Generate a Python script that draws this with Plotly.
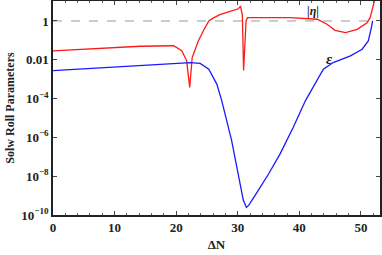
import plotly.graph_objects as go

# Delta N values and parameter values
eta_N = [0, 5, 10, 14.2, 19.6, 20.9, 21.7, 22.2, 22.6, 23.6, 24.5, 25.3, 26, 27.2, 28.5, 29.5, 30.1,
         30.45, 30.75, 30.95, 31.15, 31.35, 31.6, 33, 38.5, 42.9, 44.5, 45.8, 47.5, 49.4, 51.0, 51.5,
         51.9, 52.25]
eta_val = [0.029, 0.035, 0.043, 0.050, 0.053, 0.029, 0.0089, 0.00038, 0.013, 0.093, 0.35, 1.0, 1.41,
           2.2, 2.95, 3.55, 4.25, 5.9, 2.0, 0.0028, 0.1, 1.0, 1.48, 1.5, 1.48, 1.23, 0.68, 0.33, 0.25,
           0.37, 0.81, 1.48, 4.8, 12.6]
eps_N = [0, 5, 10, 14.2, 19.5, 22.3, 23.9, 25.3, 26.6, 27.4, 29.0, 30.1, 30.9, 31.4, 31.8, 33, 35,
         36.9, 39, 41, 42.9, 43.9, 45.5, 48.3, 50.2, 51.2, 51.7, 51.9]
eps_val = [2.75e-3, 3.4e-3, 4.2e-3, 4.9e-3, 6.5e-3, 7.2e-3, 6.5e-3, 3.3e-3, 5.6e-4, 7.9e-5, 7.1e-7,
           9.3e-9, 5.9e-10, 2.45e-10, 3.2e-10, 1.26e-9, 1.3e-8, 1.45e-7, 3.2e-6, 7.9e-5, 8.3e-4,
           3.3e-3, 7.2e-3, 1.58e-2, 3.5e-2, 9.3e-2, 0.46, 1.0]
ref_N = [0, 52.3]
ref_val = [1, 1]

ytick_vals = [1, 0.01, 1e-4, 1e-6, 1e-8, 1e-10]
ytick_text = ["1", "0.01", "10<sup>−4</sup>", "10<sup>−6</sup>", "10<sup>−8</sup>", "10<sup>−10</sup>"]
xtick_vals = [0, 10, 20, 30, 40, 50]

font_family = "Liberation Serif, DejaVu Serif, serif"

fig = go.Figure()
fig.add_trace(go.Scatter(x=ref_N, y=ref_val, mode="lines",
                         line=dict(color="#999999", width=1, dash="dash"), hoverinfo="skip"))
fig.add_trace(go.Scatter(x=eta_N, y=eta_val, mode="lines", line=dict(color="#ff1a1a", width=1.3)))
fig.add_trace(go.Scatter(x=eps_N, y=eps_val, mode="lines", line=dict(color="#1a1aff", width=1.3)))

fig.add_annotation(x=42.3, y=0.51, xref="x", yref="y", text="<b>|<i>η</i>|</b>", showarrow=False,
                   font=dict(size=12, color="#222222", family=font_family))
fig.add_annotation(x=44.9, y=-1.95, xref="x", yref="y", text="<b><i>ε</i></b>", showarrow=False,
                   font=dict(size=15, color="#222222", family=font_family))

fig.update_layout(
    width=382, height=255,
    margin=dict(l=53, r=2, t=1, b=40),
    plot_bgcolor="white", paper_bgcolor="white",
    showlegend=False,
    font=dict(family=font_family, size=12, color="#222222"),
    xaxis=dict(range=[0, 53.1], tickvals=xtick_vals, ticks="inside", ticklen=4, tickwidth=1,
               tickcolor="#444444", showline=True, linecolor="#222222", linewidth=1.5,
               mirror="ticks", showgrid=False, zeroline=False, automargin=False,
               tickfont=dict(size=13, family=font_family, weight="bold"),
               minor=dict(dtick=2, ticks="inside", ticklen=2, tickcolor="#666666"),
               title=dict(text="<b>ΔN</b>", font=dict(size=13, family=font_family), standoff=6)),
    yaxis=dict(type="log", range=[-10, 1.03], tickvals=ytick_vals, ticktext=ytick_text,
               ticks="inside", ticklen=4, tickwidth=1, tickcolor="#444444",
               showline=True, linecolor="#222222", linewidth=1.5, mirror="ticks",
               showgrid=False, zeroline=False, automargin=False,
               tickfont=dict(size=13, family=font_family, weight="bold"),
               title=dict(text="<b>Solw Roll Parameters</b>", font=dict(size=12, family=font_family),
                          standoff=4)),
)

fig.write_html("out.html", config={"displayModeBar": False},
               post_script="document.body.style.margin='0';document.body.style.padding='0';")
